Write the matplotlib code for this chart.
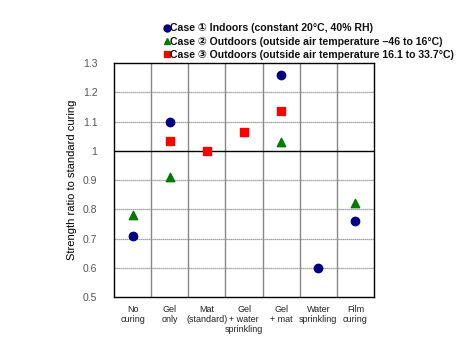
import matplotlib
matplotlib.use("Agg")
import matplotlib.pyplot as plt
from matplotlib.lines import Line2D
import numpy as np

categories = ["No\ncuring", "Gel\nonly", "Mat\n(standard)", "Gel\n+ water\nsprinkling",
              "Gel\n+ mat", "Water\nsprinkling", "Film\ncuring"]
case1 = [0.71, 1.10, None, None, 1.26, 0.60, 0.76]
case2 = [0.78, 0.91, None, None, 1.03, None, 0.82]
case3 = [None, 1.035, 1.00, 1.065, 1.135, None, None]
labels = ["Case \u2460 Indoors (constant 20\u00b0C, 40% RH)",
          "Case \u2461 Outdoors (outside air temperature \u201346 to 16\u00b0C)",
          "Case \u2462 Outdoors (outside air temperature 16.1 to 33.7\u00b0C)"]
yticks = [0.5, 0.6, 0.7, 0.8, 0.9, 1, 1.1, 1.2, 1.3]

plt.rcParams['font.family'] = ['Liberation Sans', 'DejaVu Sans']

fig = plt.figure(figsize=(4.6, 3.45), dpi=100)
ax = fig.add_axes([0.248, 0.139, 0.565, 0.678])

x = np.arange(len(categories))

def pts(vals):
    xs = [xi for xi, v in zip(x, vals) if v is not None]
    ys = [v for v in vals if v is not None]
    return xs, ys

colors = ['#000080', '#007a00', '#ff0000']
markers = ['o', '^', 's']
ax.scatter(*pts(case1), marker='o', s=36, color=colors[0], zorder=5)
ax.scatter(*pts(case2), marker='^', s=36, color=colors[1], zorder=5)
ax.scatter(*pts(case3), marker='s', s=36, color=colors[2], zorder=5)

ax.set_xlim(-0.5, len(categories) - 0.5)
ax.set_ylim(0.5, 1.3)
ax.set_yticks(yticks)
ax.set_yticklabels([("%g" % t) for t in yticks], color='#555555', fontsize=7.5)
for t in yticks[1:-1]:
    if t == 1:
        ax.axhline(t, color='black', lw=1.0, zorder=2)
    else:
        ax.axhline(t, color='#888888', lw=0.9, ls=(0, (1, 0.6)), zorder=1)
for b in np.arange(0.5, len(categories) - 0.5, 1):
    ax.axvline(b, color='#888888', lw=1.0, zorder=1)

ax.set_xticks(x)
ax.set_xticklabels(categories, fontsize=6.5, color='#222222', linespacing=1.15)
ax.tick_params(axis='x', length=0, pad=6)
ax.tick_params(axis='y', length=0, pad=12)
for s in ax.spines.values():
    s.set_color('black')
    s.set_linewidth(1.0)

ax.set_ylabel("Strength ratio to standard curing", fontsize=8, labelpad=4)

handles = [Line2D([], [], ls='none', marker=m, color=c, markersize=ms)
           for m, c, ms in zip(markers, colors, [5, 5, 5])]
leg = fig.legend(handles=handles, labels=labels, loc='upper left', bbox_to_anchor=(0.338, 0.948),
                 frameon=False, fontsize=7.6, handletextpad=-0.2, labelspacing=0.3,
                 borderpad=0, handlelength=1.1)
for t in leg.get_texts():
    t.set_fontweight('bold')
    t.set_color('#111111')

fig.savefig("out.png", dpi=100)
